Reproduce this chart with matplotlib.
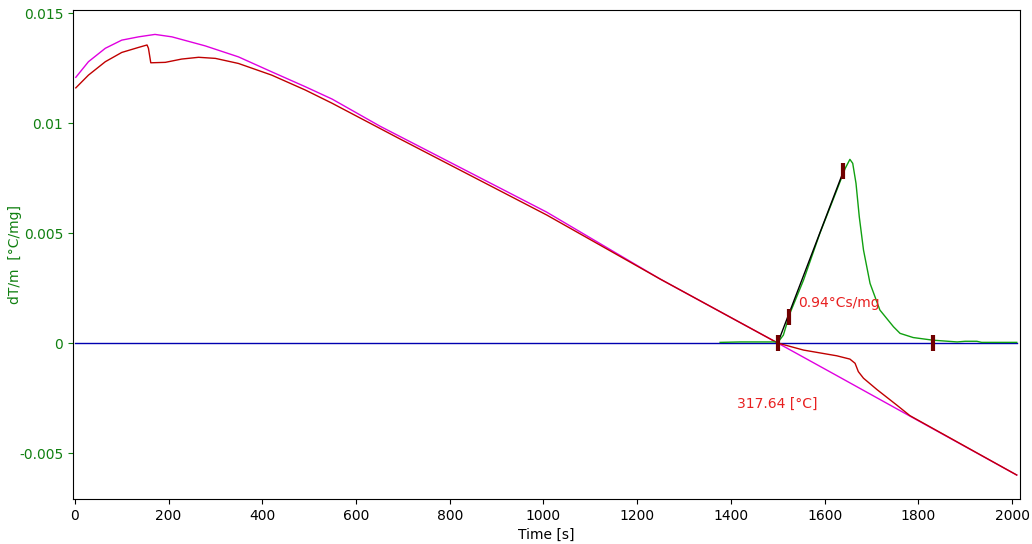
import matplotlib
matplotlib.use("Agg")
import matplotlib.pyplot as plt

# curves (time [s], dT/m [degC/mg])
t_magenta = [2, 29, 65, 100, 136, 171, 207, 278, 349, 420, 492, 549, 651, 1007, 1249, 1500, 1626,
             1782, 2010]
y_magenta = [0.01208, 0.01279, 0.0134, 0.01377, 0.01392, 0.01403, 0.01392, 0.01351, 0.01301, 0.01233,
             0.01165, 0.01109, 0.00986, 0.00595, 0.00291, 0.0, -0.00148, -0.00332, -0.0060]

t_red = [2, 29, 65, 100, 136, 154, 157, 162, 193, 228, 264, 300, 349, 420, 492, 549, 690, 1007,
         1249, 1500, 1555, 1626, 1654, 1665, 1672, 1683, 1712, 1754, 1782, 2010]
y_red = [0.01160, 0.01218, 0.01279, 0.01321, 0.01344, 0.01355, 0.0134, 0.01274, 0.01276, 0.01291,
         0.01299, 0.01294, 0.01271, 0.01218, 0.0115, 0.01090, 0.00932, 0.00582, 0.00291, 0.0,
         -0.00032, -0.00058, -0.00073, -0.00092, -0.0013, -0.0016, -0.00212, -0.00282, -0.00330,
         -0.0060]

t_green = [1377, 1420, 1501, 1512, 1526, 1555, 1590, 1626, 1644, 1654, 1660, 1667, 1674, 1683, 1697,
           1718, 1747, 1761, 1789, 1831, 1883, 1900, 1925, 1935, 2010]
y_green = [0.00003, 0.00005, 0.00005, 0.00036, 0.00135, 0.00286, 0.00499, 0.00695, 0.00794, 0.00835,
           0.00817, 0.00726, 0.00574, 0.00423, 0.00271, 0.0015, 0.00074, 0.00044, 0.00025, 0.00013,
           0.00005, 0.00008, 0.00008, 0.00003, 0.00003]

t_base = [0, 2010]
y_base = [0.0, 0.0]

t_tangent = [1500, 1640]
y_tangent = [0.0, 0.0078]

t_marks = [1500, 1524, 1640, 1831]
y_marks = [0.0, 0.00118, 0.00782, 0.0]

x_ticks = [0, 200, 400, 600, 800, 1000, 1200, 1400, 1600, 1800, 2000]
y_ticks = [-0.005, 0, 0.005, 0.01, 0.015]
y_ticklabels = ["-0.005", "0", "0.005", "0.01", "0.015"]

fig = plt.figure(figsize=(10.32, 5.44), dpi=100)
ax = fig.add_axes([73 / 1032, 45 / 544, 947 / 1032, 489 / 544])

ax.plot(t_base, y_base, color="#0000b0", lw=1)
ax.plot(t_magenta, y_magenta, color="#e000e0", lw=1)
ax.plot(t_red, y_red, color="#c00000", lw=1)
ax.plot(t_green, y_green, color="#10a010", lw=1)
ax.plot(t_tangent, y_tangent, color="black", lw=1)
ax.plot(t_marks, y_marks, ls="none", marker="|", markersize=12, markeredgewidth=3, color="#700000")

ax.text(1543, 0.0018, "0.94°Cs/mg", color="#e82020", fontsize=10, va="center")
ax.text(1413, -0.00277, "317.64 [°C]", color="#e82020", fontsize=10, va="center")

ax.set_xlim(-4, 2017)
ax.set_ylim(-0.00709, 0.01514)
ax.set_xticks(x_ticks)
ax.set_yticks(y_ticks)
ax.set_yticklabels(y_ticklabels)
ax.tick_params(axis="y", colors="#108010", labelsize=10)
ax.tick_params(axis="x", labelsize=10)
for sp in ax.spines.values():
    sp.set_color("black")

ax.set_xlabel("Time [s]", fontsize=10)
ax.set_ylabel("dT/m  [°C/mg]", color="#108010", fontsize=10)
ax.yaxis.set_label_coords(-0.054, 0.5)

fig.savefig("out.png", dpi=100)
